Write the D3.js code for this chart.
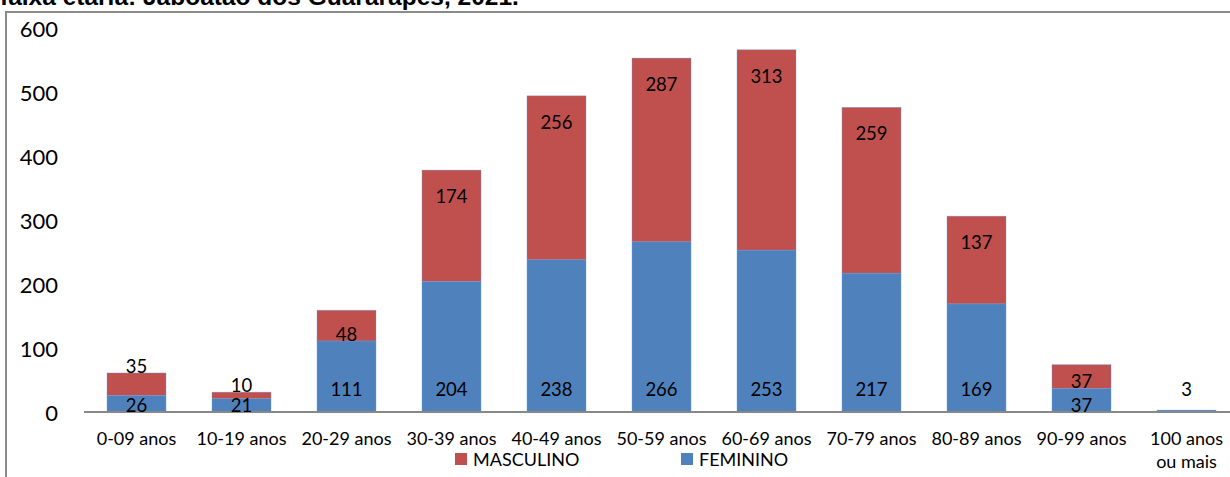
<!DOCTYPE html>
<html>
<head>
<meta charset="utf-8">
<script src="https://cdn.jsdelivr.net/npm/d3@7"></script>
<style>
	body { margin: 0; background: #fff; }
	svg { display: block; }
</style>
</head>
<body>
<div id="chart"></div>
<script>
/* stacked bars: deaths by sex and age group */

const categories = ["0-09 anos","10-19 anos","20-29 anos","30-39 anos","40-49 anos","50-59 anos","60-69 anos","70-79 anos","80-89 anos","90-99 anos","100 anos\nou mais"]
const feminino = [26, 21, 111, 204, 238, 266, 253, 217, 169, 37, 3]
const masculino = [35, 10, 48, 174, 256, 287, 313, 259, 137, 37, 0]
const yTicks = [0, 100, 200, 300, 400, 500, 600]
const title = "faixa etária: Jaboatão dos Guararapes, 2021."

const W = 1230, H = 477
const margin = {top: 28, left: 84, bottom: 65}
const base = H - margin.bottom

const svg = d3.select("#chart").append("svg")
	.attr("width", W).attr("height", H)

// frame of the chart area
svg.append("rect")
	.attr("x", 6).attr("y", 12)
	.attr("width", W + 20).attr("height", H + 20)
	.attr("fill", "none")
	.attr("stroke", "#8a8a8a")
	.attr("stroke-width", 2)

svg.append("text")
	.attr("x", 0).attr("y", 5)
	.style("font-family", "Liberation Sans, Arial, sans-serif")
	.style("font-weight", "bold")
	.style("font-size", "24.5px")
	.text(title)

const x = d3.scaleBand()
	.domain(categories)
	.range([margin.left, margin.left + 105 * categories.length])
	.paddingInner(0.438)
	.paddingOuter(0.219)

const y = d3.scaleLinear()
	.domain([0, 600])
	.range([base, margin.top])

const font = "Lato, 'Open Sans', sans-serif"

// y labels, no axis line
svg.append("g")
	.selectAll("text")
	.data(yTicks)
	.join("text")
	.attr("x", 58)
	.attr("y", d => y(d))
	.attr("text-anchor", "end")
	.attr("dominant-baseline", "central")
	.style("font-family", font)
	.style("font-size", "22px")
	.text(d => d)

const rows = categories.map((c, i) => ({cat: c, fem: feminino[i], masc: masculino[i]}))
const stack = d3.stack().keys(["fem", "masc"])(rows)
const colors = {fem: "#4f81bd", masc: "#c0504d"}

svg.append("g")
	.selectAll("g")
	.data(stack)
	.join("g")
	.attr("fill", s => colors[s.key])
	.selectAll("rect")
	.data(s => s)
	.join("rect")
	.attr("x", d => x(d.data.cat))
	.attr("width", x.bandwidth())
	.attr("y", d => y(d[1]))
	.attr("height", d => y(d[0]) - y(d[1]))
	.attr("stroke", d => d3.color(colors.fem).brighter(0.6))
	.attr("stroke-width", 0.6)
	.attr("stroke-opacity", 0.6)

// x axis line
svg.append("line")
	.attr("x1", margin.left).attr("x2", W)
	.attr("y1", base).attr("y2", base)
	.attr("stroke", "#888")
	.attr("stroke-width", 2)

// data labels: feminino at the base, masculino at the top end
const labelY = (d, key) => {
	const top = y(d[1]), bot = y(d[0]), h = bot - top, v = d[1] - d[0]
	if (key === "fem") return (h >= 30 || v < 10) ? base - 23 : base - 7
	if (v <= 35) return top - 7
	return Math.min(top + 26, bot - 7)
}

const labels = svg.append("g")
stack.forEach(s => {
	labels.selectAll(null)
		.data(s.filter(d => d[1] - d[0] > 0))
		.join("text")
		.attr("x", d => x(d.data.cat) + x.bandwidth() / 2)
		.attr("y", d => labelY(d, s.key))
		.attr("text-anchor", "middle")
		.attr("dominant-baseline", "central")
		.style("font-family", font)
		.style("font-size", "18.5px")
		.text(d => d[1] - d[0])
})

// category labels, split on newline
svg.append("g")
	.selectAll("text")
	.data(categories)
	.join("text")
	.attr("text-anchor", "middle")
	.style("font-family", font)
	.style("font-size", "18px")
	.each(function(c){
		const t = d3.select(this)
		c.split("\n").forEach((line, i) => {
			t.append("tspan")
				.attr("x", x(c) + x.bandwidth() / 2)
				.attr("y", base + 33 + i * 23)
				.text(line)
		})
	})

// legend
const legend = [{name: "MASCULINO", key: "masc", x: 455}, {name: "FEMININO", key: "fem", x: 681}]
const lg = svg.append("g").selectAll("g")
	.data(legend)
	.join("g")
	.attr("transform", d => `translate(${d.x},${base + 47})`)
lg.append("rect")
	.attr("width", 12).attr("height", 12).attr("y", -6)
	.attr("fill", d => colors[d.key])
lg.append("text")
	.attr("x", 18)
	.attr("dominant-baseline", "central")
	.style("font-family", font)
	.style("font-size", "18px")
	.text(d => d.name)
</script>
</body>
</html>
